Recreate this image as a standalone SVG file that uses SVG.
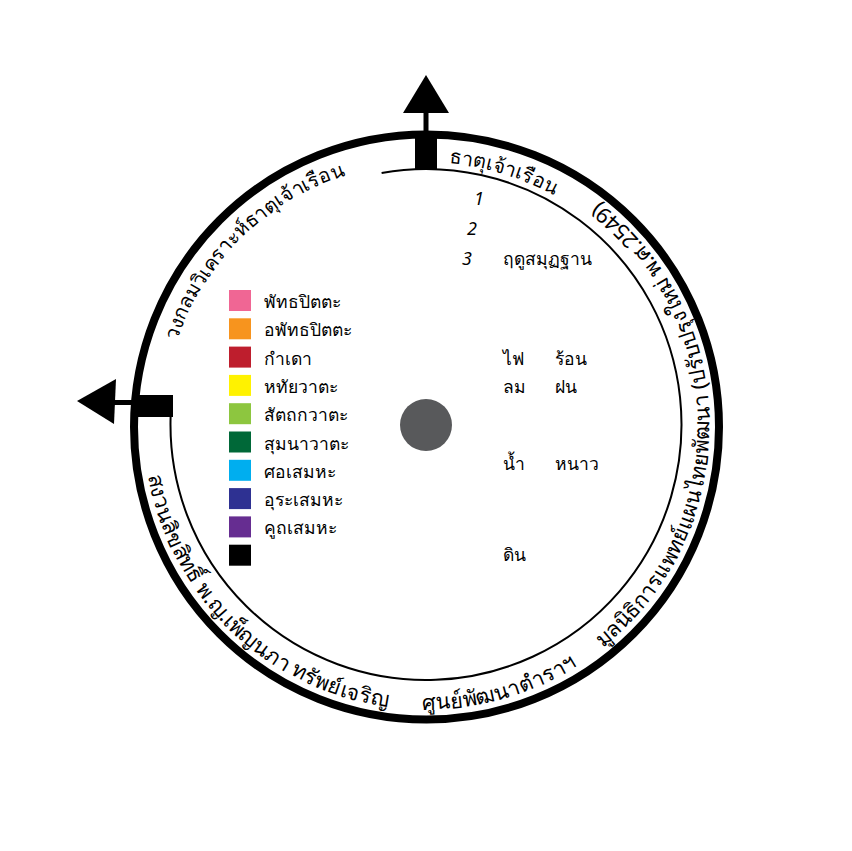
<svg xmlns="http://www.w3.org/2000/svg" width="852" height="851" viewBox="0 0 852 851">
<style>
text{font-family:"Noto Sans","DejaVu Sans",sans-serif;fill:#000}
.ring{font-size:20px}
.ccw{font-size:21.5px}
.lg{font-size:17.5px}
.num{font-size:18px;font-style:italic}
</style>
<defs>
<path id="tp-top" d="M449.5,163.5 A264,264 0 0 1 596.2,224.3"/>
<path id="tp-left" d="M176.9,340.5 A264,264 0 0 1 389.8,165.1"/>
<path id="tp-bottom" d="M421.6,709.5 A283,283 0 0 0 588.8,658.3"/>
<path id="tp-right" d="M602.7,648 A283,283 0 0 0 546.1,170"/>
<path id="tp-lb" d="M147.8,475.6 A283,283 0 0 0 411.7,709.1"/>
</defs>
<rect width="852" height="851" fill="#fff"/>
<g id="wheel">
<circle cx="426.5" cy="427" r="292.5" fill="none" stroke="#000" stroke-width="8"/>
<path d="M381.6,172.9 A255.5,255.5 0 1 1 170.6,417" fill="none" stroke="#000" stroke-width="2"/>
<circle id="hub" cx="426" cy="425" r="26" fill="#58595b"/>
</g>
<g id="pointers">
<rect x="415" y="134" width="22" height="36" fill="#000"/>
<rect x="423.5" y="110" width="5" height="26" fill="#000"/>
<polygon points="426,75 403,113 449,113" fill="#000"/>
<rect x="137" y="395" width="36" height="22" fill="#000"/>
<rect x="112" y="400" width="27" height="5" fill="#000"/>
<polygon points="77,401 116,379 114,424" fill="#000"/>
</g>
<g id="ring-labels" class="ring">
<text><textPath href="#tp-top">ธาตุเจ้าเรือน</textPath></text>
<text><textPath href="#tp-left">วงกลมวิเคราะห์ธาตุเจ้าเรือน</textPath></text>
<text class="ccw"><textPath href="#tp-bottom">ศูนย์พัฒนาตำราฯ</textPath></text>
<text class="ccw"><textPath href="#tp-right">มูลนิธิการแพทย์แผนไทยพัฒนา (ปรับปรุงใหม่ พ.ศ.2549)</textPath></text>
<text class="ccw"><textPath href="#tp-lb">สงวนลิขสิทธิ์ พ.ญ.เพ็ญนภา ทรัพย์เจริญ</textPath></text>
</g>
<g id="legend" class="lg">
<rect x="229" y="290" width="22" height="21" fill="#f06694"/>
<text x="264" y="308">พัทธปิตตะ</text>
<rect x="229" y="318.3" width="22" height="21" fill="#f7941e"/>
<text x="264" y="336.3">อพัทธปิตตะ</text>
<rect x="229" y="346.6" width="22" height="21" fill="#be1e2d"/>
<text x="264" y="364.6">กำเดา</text>
<rect x="229" y="374.9" width="22" height="21" fill="#fff200"/>
<text x="264" y="392.9">หทัยวาตะ</text>
<rect x="229" y="403.2" width="22" height="21" fill="#8dc63f"/>
<text x="264" y="421.2">สัตถกวาตะ</text>
<rect x="229" y="431.5" width="22" height="21" fill="#006838"/>
<text x="264" y="449.5">สุมนาวาตะ</text>
<rect x="229" y="459.8" width="22" height="21" fill="#00aeef"/>
<text x="264" y="477.8">ศอเสมหะ</text>
<rect x="229" y="488.1" width="22" height="21" fill="#2e3192"/>
<text x="264" y="506.1">อุระเสมหะ</text>
<rect x="229" y="516.4" width="22" height="21" fill="#662d91"/>
<text x="264" y="534.4">คูถเสมหะ</text>
<rect x="229" y="544.7" width="22" height="21" fill="#000"/>
</g>
<g id="table" class="lg">
<text class="num" x="474" y="205">1</text>
<text class="num" x="467" y="235">2</text>
<text class="num" x="462" y="265">3</text>
<text x="503" y="265">ฤดูสมุฏฐาน</text>
<text x="503" y="365">ไฟ</text>
<text x="555" y="365">ร้อน</text>
<text x="503" y="393">ลม</text>
<text x="555" y="393">ฝน</text>
<text x="503" y="470">น้ำ</text>
<text x="555" y="470">หนาว</text>
<text x="503" y="561">ดิน</text>
</g>
</svg>
